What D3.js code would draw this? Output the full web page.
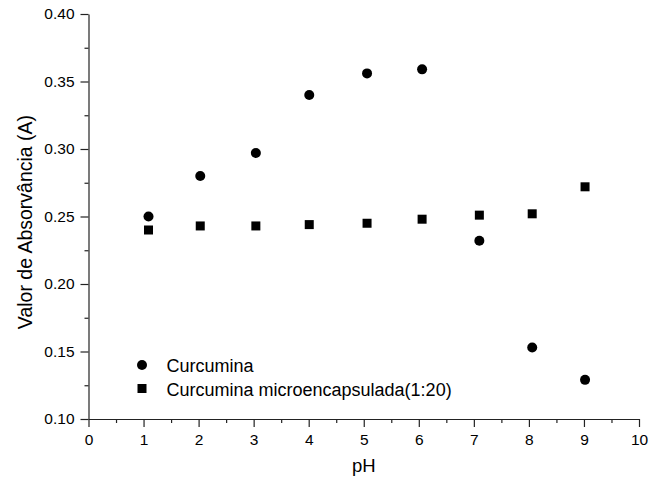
<!DOCTYPE html>
<html>
<head>
<meta charset="utf-8">
<script src="https://cdn.jsdelivr.net/npm/d3@7"></script>
<style>
  body { margin: 0; background: #fff; }
  text { font-family: "Liberation Sans", Arial, sans-serif; fill: #000; }
</style>
</head>
<body>
<div id="chart"></div>
<script>
// Data
const phCurc = [1.09, 2.03, 3.04, 4.01, 5.06, 6.06, 7.10, 8.06, 9.02];
const absCurc = [0.250, 0.280, 0.297, 0.340, 0.356, 0.359, 0.232, 0.153, 0.129];
const phMicro = [1.09, 2.03, 3.04, 4.01, 5.06, 6.06, 7.10, 8.06, 9.02];
const absMicro = [0.240, 0.243, 0.243, 0.244, 0.245, 0.248, 0.251, 0.252, 0.272];
const xTicks = [0, 1, 2, 3, 4, 5, 6, 7, 8, 9, 10];
const yTicks = [0.10, 0.15, 0.20, 0.25, 0.30, 0.35, 0.40];
const legendLabels = ["Curcumina", "Curcumina microencapsulada(1:20)"];

const W = 663, H = 488;
const margin = { top: 14, right: 24, bottom: 69, left: 88.5 };

const svg = d3.select("#chart")
  .append("svg")
  .attr("width", W)
  .attr("height", H);

const x = d3.scaleLinear().domain([0, 10]).range([margin.left, W - margin.right]);
const y = d3.scaleLinear().domain([0.10, 0.40]).range([H - margin.bottom, margin.top]);

// Minor ticks
svg.append("g")
  .attr("transform", `translate(0,${H - margin.bottom})`)
  .call(d3.axisBottom(x).tickValues(d3.range(0.5, 10, 1)).tickSize(4).tickFormat(""))
  .call(g => g.select(".domain").remove());
svg.append("g")
  .attr("transform", `translate(${margin.left},0)`)
  .call(d3.axisLeft(y).tickValues(d3.range(0.125, 0.40, 0.05)).tickSize(4).tickFormat(""))
  .call(g => g.select(".domain").remove());

// Major axes
svg.append("g")
  .attr("transform", `translate(0,${H - margin.bottom})`)
  .call(d3.axisBottom(x).tickValues(xTicks).tickSize(8).tickSizeOuter(0).tickPadding(7).tickFormat(d3.format("d")));
svg.append("g")
  .attr("transform", `translate(${margin.left},0)`)
  .call(d3.axisLeft(y).tickValues(yTicks).tickSize(8).tickSizeOuter(0).tickPadding(6).tickFormat(d3.format(".2f")));

svg.selectAll(".tick text").style("font-size", "15.5px");
svg.selectAll(".domain, .tick line").attr("stroke", "#222").attr("stroke-width", 1.2);

// Axis titles
svg.append("text")
  .attr("x", (x(0) + x(10)) / 2)
  .attr("y", 472)
  .attr("text-anchor", "middle")
  .style("font-size", "18.5px")
  .text("pH");

svg.append("text")
  .attr("transform", "translate(32,222) rotate(-90)")
  .attr("text-anchor", "middle")
  .style("font-size", "19.5px")
  .text("Valor de Absorvância (A)");

// Points
svg.append("g").selectAll("circle")
  .data(phCurc)
  .join("circle")
  .attr("cx", d => x(d))
  .attr("cy", (d, i) => y(absCurc[i]))
  .attr("r", 5)
  .attr("fill", "#000");

svg.append("g").selectAll("rect")
  .data(phMicro)
  .join("rect")
  .attr("x", d => x(d) - 4.5)
  .attr("y", (d, i) => y(absMicro[i]) - 4.5)
  .attr("width", 9)
  .attr("height", 9)
  .attr("fill", "#000");

// Legend
const legend = svg.append("g").attr("transform", "translate(142,365)");
legend.append("circle").attr("r", 5).attr("fill", "#000");
legend.append("rect").attr("x", -4.5).attr("y", 23.5 - 4.5).attr("width", 9).attr("height", 9).attr("fill", "#000");
legend.selectAll("text")
  .data(legendLabels)
  .join("text")
  .attr("x", 24.5)
  .attr("y", (d, i) => i * 23.5 + 7)
  .style("font-size", "18px")
  .text(d => d);
</script>
</body>
</html>
